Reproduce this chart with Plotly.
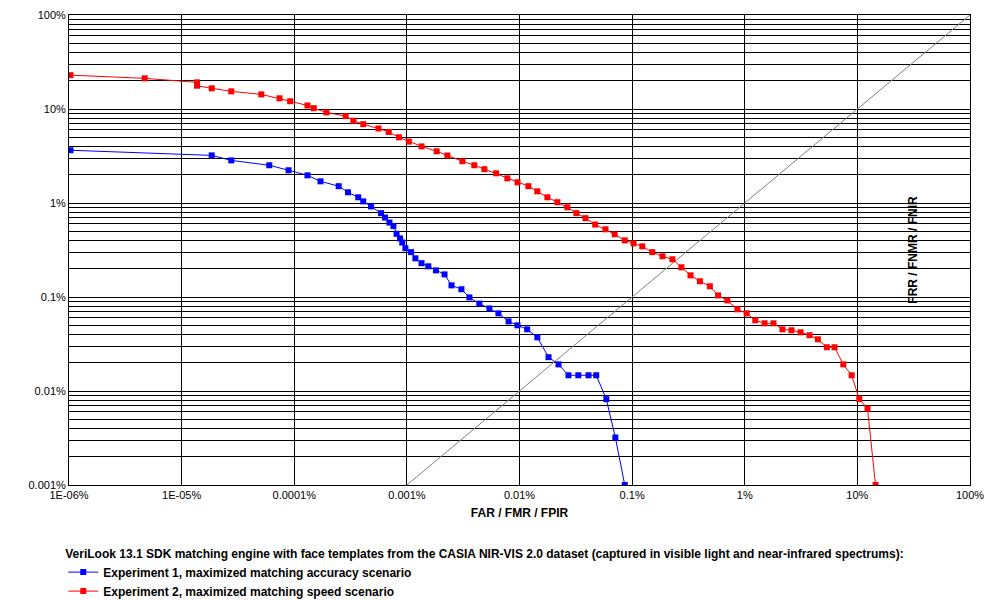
import plotly.graph_objects as go

# Experiment 1 (blue), values in %
exp1_far = [1.03e-6, 1.85e-5, 2.76e-5, 6.0e-5, 8.9e-5, 1.31e-4, 1.71e-4, 2.48e-4, 3.0e-4, 3.7e-4,
            4.1e-4, 4.8e-4, 5.9e-4, 6.4e-4, 7.0e-4, 7.6e-4, 8.1e-4, 8.7e-4, 9.1e-4, 9.7e-4,
            1.09e-3, 1.19e-3, 1.35e-3, 1.55e-3, 1.81e-3, 2.16e-3, 2.49e-3, 3.05e-3, 3.59e-3, 4.4e-3,
            5.4e-3, 6.5e-3, 8.0e-3, 9.6e-3, 0.0117, 0.0144, 0.0181, 0.0222, 0.0272, 0.0333,
            0.041, 0.048, 0.059, 0.071, 0.086]
exp1_frr = [3.64, 3.21, 2.84, 2.52, 2.23, 1.97, 1.70, 1.51, 1.30, 1.15,
            1.04, 0.92, 0.78, 0.70, 0.62, 0.57, 0.47, 0.42, 0.38, 0.33,
            0.30, 0.258, 0.229, 0.212, 0.192, 0.174, 0.133, 0.121, 0.099, 0.085,
            0.0755, 0.067, 0.055, 0.050, 0.0453, 0.0372, 0.0229, 0.0192, 0.0147, 0.0147,
            0.0147, 0.0147, 0.0082, 0.0032, 0.001]

# Experiment 2 (red), values in %
exp2_far = [1.03e-6, 4.7e-6, 1.37e-5, 1.37e-5, 1.85e-5, 2.76e-5, 5.1e-5, 7.4e-5, 9.2e-5, 1.31e-4,
            1.49e-4, 1.93e-4, 2.86e-4, 3.35e-4, 4.1e-4, 5.6e-4, 6.9e-4, 8.5e-4, 1.04e-3, 1.35e-3,
            1.84e-3, 2.29e-3, 3.11e-3, 3.97e-3, 4.88e-3, 6.2e-3, 7.8e-3, 9.6e-3, 0.012, 0.0144,
            0.0177, 0.0217, 0.0266, 0.032, 0.0385, 0.047, 0.058, 0.070, 0.086, 0.103,
            0.123, 0.151, 0.186, 0.228, 0.274, 0.33, 0.40, 0.49, 0.58, 0.70,
            0.86, 1.04, 1.24, 1.50, 1.80, 2.16, 2.60, 3.13, 3.76, 4.46,
            5.36, 6.27, 7.5, 8.9, 10.4, 12.3, 14.5]
exp2_frr = [22.9, 21.2, 19.2, 17.7, 16.6, 15.4, 14.3, 13.0, 12.1, 10.9,
            10.2, 9.2, 8.4, 7.5, 6.9, 6.2, 5.7, 5.0, 4.5, 4.0,
            3.55, 3.2, 2.78, 2.52, 2.29, 2.07, 1.83, 1.66, 1.51, 1.33,
            1.15, 1.02, 0.90, 0.78, 0.69, 0.59, 0.525, 0.465, 0.40, 0.372,
            0.346, 0.30, 0.271, 0.252, 0.207, 0.170, 0.147, 0.130, 0.104, 0.092,
            0.074, 0.067, 0.0565, 0.0525, 0.0525, 0.0453, 0.0443, 0.0421, 0.0392, 0.0355,
            0.0292, 0.0292, 0.0192, 0.0147, 0.0082, 0.0065, 0.001]

x_ticks = [1e-6, 1e-5, 1e-4, 1e-3, 1e-2, 1e-1, 1, 10, 100]
x_labels = ["1E-06%", "1E-05%", "0.0001%", "0.001%", "0.01%", "0.1%", "1%", "10%", "100%"]
y_ticks = [1e-3, 1e-2, 1e-1, 1, 10, 100]
y_labels = ["0.001%", "0.01%", "0.1%", "1%", "10%", "100%"]
y_minor = [m * d for d in y_ticks[:-1] for m in range(2, 10)]

fig = go.Figure()
fig.add_trace(go.Scatter(x=[1e-3, 100], y=[1e-3, 100], mode="lines",
                         line=dict(color="#808080", width=1), showlegend=False, hoverinfo="skip"))
fig.add_trace(go.Scatter(x=exp1_far, y=exp1_frr, mode="lines+markers",
                         name="Experiment 1, maximized matching accuracy scenario",
                         line=dict(color="#0000ff", width=1),
                         marker=dict(symbol="square", size=6, color="#0000ff")))
fig.add_trace(go.Scatter(x=exp2_far, y=exp2_frr, mode="lines+markers",
                         name="Experiment 2, maximized matching speed scenario",
                         line=dict(color="#ff0000", width=1),
                         marker=dict(symbol="square", size=6, color="#ff0000")))

fig.update_layout(
    width=1005, height=600,
    margin=dict(l=61, r=43, t=7, b=123, autoexpand=False),
    paper_bgcolor="white", plot_bgcolor="white",
    font=dict(family="Arial, Liberation Sans", size=11, color="black"),
    legend=dict(xref="container", yref="container", x=0.055, xanchor="left", y=0.11, yanchor="top",
                title=dict(text="<b>VeriLook 13.1 SDK matching engine with face templates from the CASIA NIR-VIS 2.0 dataset (captured in visible light and near-infrared spectrums):</b>",
                           side="top", font=dict(size=12)),
                font=dict(size=12, weight="bold"), tracegroupgap=0, itemwidth=30,
                bgcolor="rgba(0,0,0,0)"),
)
fig.update_xaxes(type="log", range=[-6, 2], tickvals=x_ticks, ticktext=x_labels,
                 showgrid=True, gridcolor="black", gridwidth=1,
                 showline=True, linecolor="black", mirror=True, zeroline=False,
                 title=dict(text="<b>FAR / FMR / FPIR</b>", font=dict(size=12), standoff=8))
fig.update_yaxes(type="log", range=[-3, 2], tickvals=y_ticks, ticktext=y_labels,
                 showgrid=True, gridcolor="black", gridwidth=1,
                 minor=dict(tickvals=y_minor, showgrid=True, gridcolor="black", gridwidth=1),
                 showline=True, linecolor="black", mirror=True, zeroline=False,
                 title=dict(text="<b>FRR / FNMR / FNIR</b>", font=dict(size=12), standoff=4))

fig.write_html("out.html")
